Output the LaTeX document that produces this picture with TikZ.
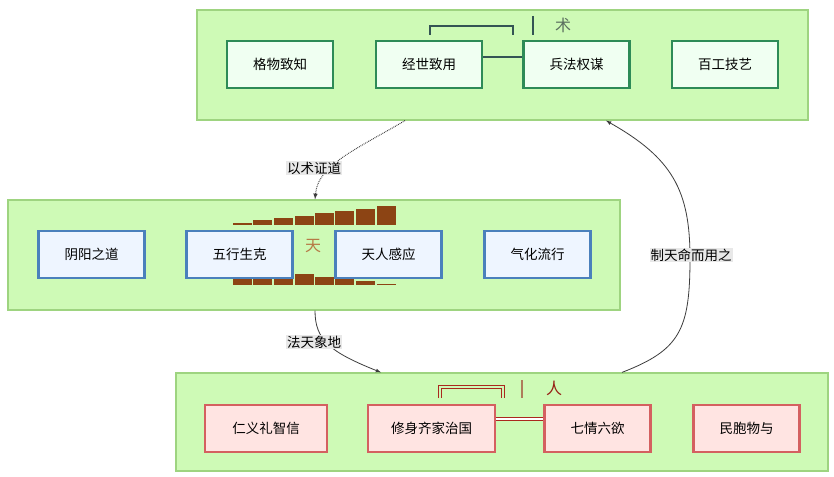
\documentclass[tikz,border=0pt]{standalone}
\usepackage{fontspec}
\setmainfont{Noto Sans CJK SC}
\usetikzlibrary{arrows, positioning}

\definecolor{grpfill}{RGB}{206,250,182}
\definecolor{grpline}{RGB}{158,212,128}
\definecolor{shuline}{RGB}{46,139,87}
\definecolor{shufill}{RGB}{240,255,242}
\definecolor{tianline}{RGB}{74,128,188}
\definecolor{tianfill}{RGB}{238,245,255}
\definecolor{renline}{RGB}{212,96,96}
\definecolor{renfill}{RGB}{255,228,226}
\definecolor{barbrown}{RGB}{140,68,20}
\definecolor{lblgray}{RGB}{232,232,232}
\definecolor{edgegray}{RGB}{60,60,60}
\definecolor{slate}{RGB}{52,84,84}
\definecolor{tiantext}{RGB}{182,122,70}
\definecolor{shutext}{RGB}{92,112,96}
\definecolor{rentext}{RGB}{150,30,20}
\definecolor{renbar}{RGB}{170,40,30}

\newcommand{\txt}{\fontsize{13.5}{16}\selectfont}
\newcommand{\ttl}{\fontsize{16}{18}\selectfont}

\tikzset{
  grp/.style={draw=grpline, fill=grpfill, line width=1.2pt, inner sep=0pt},
  item/.style={line width=2.5pt, minimum width=106pt, minimum height=47pt, inner sep=0pt, font=\txt},
  shubox/.style={item, draw=shuline, fill=shufill},
  tianbox/.style={item, draw=tianline, fill=tianfill},
  renbox/.style={item, draw=renline, fill=renfill},
  lbl/.style={fill=lblgray, inner sep=1pt, font=\txt},
  flow/.style={draw=edgegray, line width=0.8pt, -latex},
  dbl/.style={draw=renbar, line width=1.1pt, double=#1, double distance=1.2pt}
}

\begin{document}
\begin{tikzpicture}[x=1pt, y=-1pt]
\useasboundingbox[fill=white] (0,0) rectangle (834,476);

% the three groups
\node[grp, minimum width=611pt, minimum height=110pt] (shu) at (502.5,65) {};
\node[grp, minimum width=612pt, minimum height=110pt] (tian) at (314,255) {};
\node[grp, minimum width=652pt, minimum height=98pt] (ren) at (502,422) {};

% group titles
\node[font=\ttl, text=shutext] (shuT) at (563,25) {术};
\node[font=\ttl, text=tiantext] (tianT) at (313,246) {天};
\node[font=\ttl, text=rentext] (renT) at (554,388) {人};

% top row
\node[shubox] (gewu) at (280,64.5) {格物致知};
\node[shubox] (jingshi) at (429,64.5) {经世致用};
\node[shubox] (bingfa) at (576.5,64.5) {兵法权谋};
\node[shubox] (baigong) at (725,64.5) {百工技艺};

% bracket over the top row
\draw[slate, line width=2pt] (430,35) -- (430,26) -- (513,26) -- (513,35);
\draw[slate, line width=2.5pt] (533,16) -- (533,35);
\draw[slate, line width=1.5pt] ([yshift=7.5pt]jingshi.east) -- ([yshift=7.5pt]bingfa.west);

% bars round the middle title
\foreach \x/\t in {233/223,253/220,274/218,295/216,315/213,335/211,356/209,377/206}
{
    \fill[barbrown] (\x,\t) rectangle ++(19,224.5-\t);
}
\foreach \x/\t in {233/278,253/278,274/278,295/274,315/277,335/278,356/281,377/283.5}
{
    \fill[barbrown] (\x,\t) rectangle ++(19,285-\t);
}

% middle row
\node[tianbox] (yinyang) at (91.5,254.5) {阴阳之道};
\node[tianbox] (wuxing) at (239.5,254.5) {五行生克};
\node[tianbox] (tianren) at (388.5,254.5) {天人感应};
\node[tianbox] (qihua) at (537.5,254.5) {气化流行};

% bottom row
\node[renbox, minimum width=122pt] (renyi) at (266,428.5) {仁义礼智信};
\node[renbox, minimum width=127pt] (xiushen) at (431.5,428.5) {修身齐家治国};
\node[renbox] (qiqing) at (597.5,428.5) {七情六欲};
\node[renbox] (minbao) at (746.5,428.5) {民胞物与};

% double bracket over the bottom row
\draw[dbl=grpfill] (440,398) -- (440,387) -- (503,387) -- (503,398);
\draw[barbrown!70, line width=2.5pt] (522,380) -- (522,398);
\draw[dbl=white] ([yshift=9.5pt]xiushen.east) -- ([yshift=9.5pt]qiqing.west);

% connectors between the groups
\draw[flow, densely dotted, line width=1pt] ([xshift=-97.5pt]shu.south) .. controls (355,150) and (318,165) .. ([xshift=1pt]tian.north);
\draw[flow] ([xshift=1pt]tian.south) .. controls (315,340) and (330,352) .. ([xshift=-121pt]ren.north);
\draw[flow] ([xshift=120pt]ren.north) .. controls (680,350) and (690,330) .. (690,258)
    .. controls (690,190) and (672,158) .. ([xshift=103.5pt]shu.south);

% labels
\node[lbl] (yishu) at (314,168) {以术证道};
\node[lbl] (fatian) at (314,342) {法天象地};
\node[lbl] (zhitian) at (691,255) {制天命而用之};

\end{tikzpicture}
\end{document}
